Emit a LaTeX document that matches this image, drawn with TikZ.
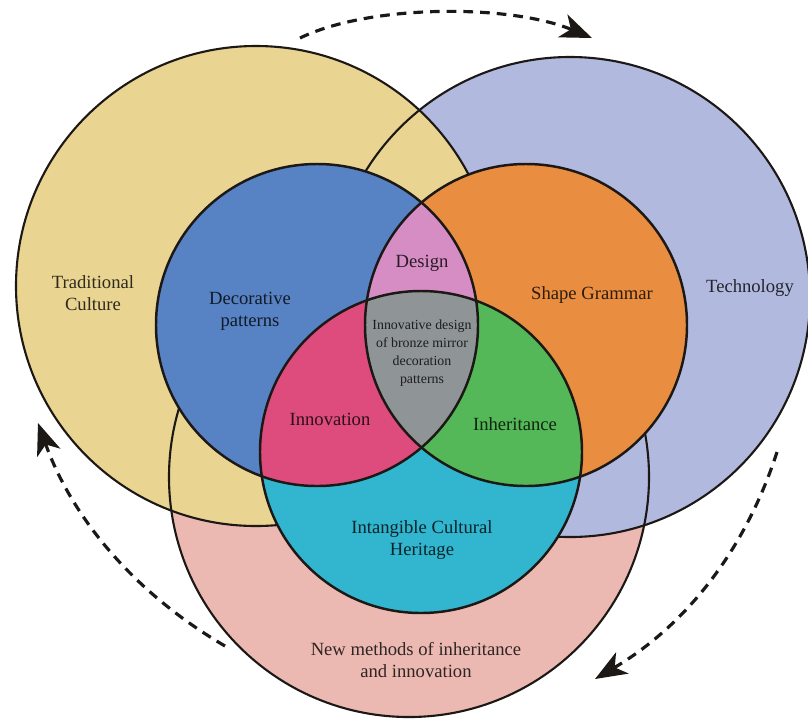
\documentclass[tikz,border=0pt]{standalone}
\usepackage{fontspec}
\setmainfont{Liberation Serif}
\usetikzlibrary{arrows.meta}
\definecolor{tradyellow}{RGB}{233,212,146}
\definecolor{techlilac}{RGB}{178,185,222}
\definecolor{newpink}{RGB}{236,185,178}
\definecolor{decoblue}{RGB}{87,130,196}
\definecolor{shapeorange}{RGB}{233,141,64}
\definecolor{ichcyan}{RGB}{50,181,206}
\definecolor{designpink}{RGB}{213,141,196}
\definecolor{innomagenta}{RGB}{222,75,125}
\definecolor{inhergreen}{RGB}{84,183,88}
\definecolor{coregray}{RGB}{143,148,150}
\definecolor{inkdark}{RGB}{28,24,22}

\begin{document}
\begin{tikzpicture}[x=0.02cm, y=-0.02cm,
    ring/.style={draw=inkdark, line width=1.2pt},
    lbl/.style={font=\fontsize{10.6}{12.5}\selectfont, align=center, text=black, text opacity=0.8},
    flow/.style={draw=inkdark, line width=1.8pt, dash pattern=on 5.5pt off 4pt,
      -{Stealth[length=18pt, width=14pt, inset=5pt]}}]
  \useasboundingbox (0,0) rectangle (808,718);
  \def\rb{240}  % outer radius
  \def\rs{161}  % inner radius

  % Centres of the six circles
  \coordinate (trad) at (256,286);
  \coordinate (tech) at (570,297);
  \coordinate (newm) at (409,477);
  \coordinate (deco) at (317,325);
  \coordinate (shape) at (526,325);
  \coordinate (ich) at (421,452);

  % Outer circles
  \fill[newpink] (newm) circle[radius=\rb];
  \fill[techlilac] (tech) circle[radius=\rb];
  \fill[tradyellow] (trad) circle[radius=\rb];
  \draw[ring] (newm) circle[radius=\rb];
  \draw[ring] (tech) circle[radius=\rb];
  \draw[ring] (trad) circle[radius=\rb];

  % Inner circles
  \fill[decoblue] (deco) circle[radius=\rs];
  \fill[shapeorange] (shape) circle[radius=\rs];
  \fill[ichcyan] (ich) circle[radius=\rs];
  % Overlaps
  \begin{scope}
    \clip (deco) circle[radius=\rs];
    \fill[designpink] (shape) circle[radius=\rs];
    \fill[innomagenta] (ich) circle[radius=\rs];
  \end{scope}
  \begin{scope}
    \clip (shape) circle[radius=\rs];
    \fill[inhergreen] (ich) circle[radius=\rs];
    \clip (deco) circle[radius=\rs];
    \fill[coregray] (ich) circle[radius=\rs];
  \end{scope}
  \draw[ring, line width=1.4pt] (deco) circle[radius=\rs];
  \draw[ring, line width=1.4pt] (shape) circle[radius=\rs];
  \draw[ring, line width=1.4pt] (ich) circle[radius=\rs];

  % Labels
  \node[lbl] (tradtext) at (93,293) {Traditional\\Culture};
  \node[lbl] (techtext) at (750,288) {Technology};
  \node[lbl] (newtext) at (416,660) {New methods of inheritance\\and innovation};
  \node[lbl] (decotext) at (250,311) {Decorative\\patterns};
  \node[lbl] (shapetext) at (592,295) {Shape Grammar};
  \node[lbl] (ichtext) at (422,540) {Intangible Cultural\\Heritage};
  \node[lbl] (designtext) at (422,263) {Design};
  \node[lbl] (innotext) at (330,419) {Innovation};
  \node[lbl] (inhertext) at (515,424) {Inheritance};
  \node[lbl, font=\fontsize{7.9}{10.2}\selectfont] (coretext) at (422,353)
    {Innovative design\\of bronze mirror\\decoration\\patterns};

  % Dashed cycle arrows
  \coordinate (topA) at (300,38);
  \coordinate (topB) at (592,38);
  \coordinate (rightA) at (777,452);
  \coordinate (rightB) at (595,679);
  \coordinate (leftA) at (225,646);
  \coordinate (leftB) at (38,423);
  \draw[flow] (topA) .. controls (370,4) and (510,4) .. (topB);
  \draw[flow] (rightA) .. controls (745,551) and (685,626) .. (rightB);
  \draw[flow] (leftA) .. controls (136,594) and (73,520) .. (leftB);
\end{tikzpicture}
\end{document}
